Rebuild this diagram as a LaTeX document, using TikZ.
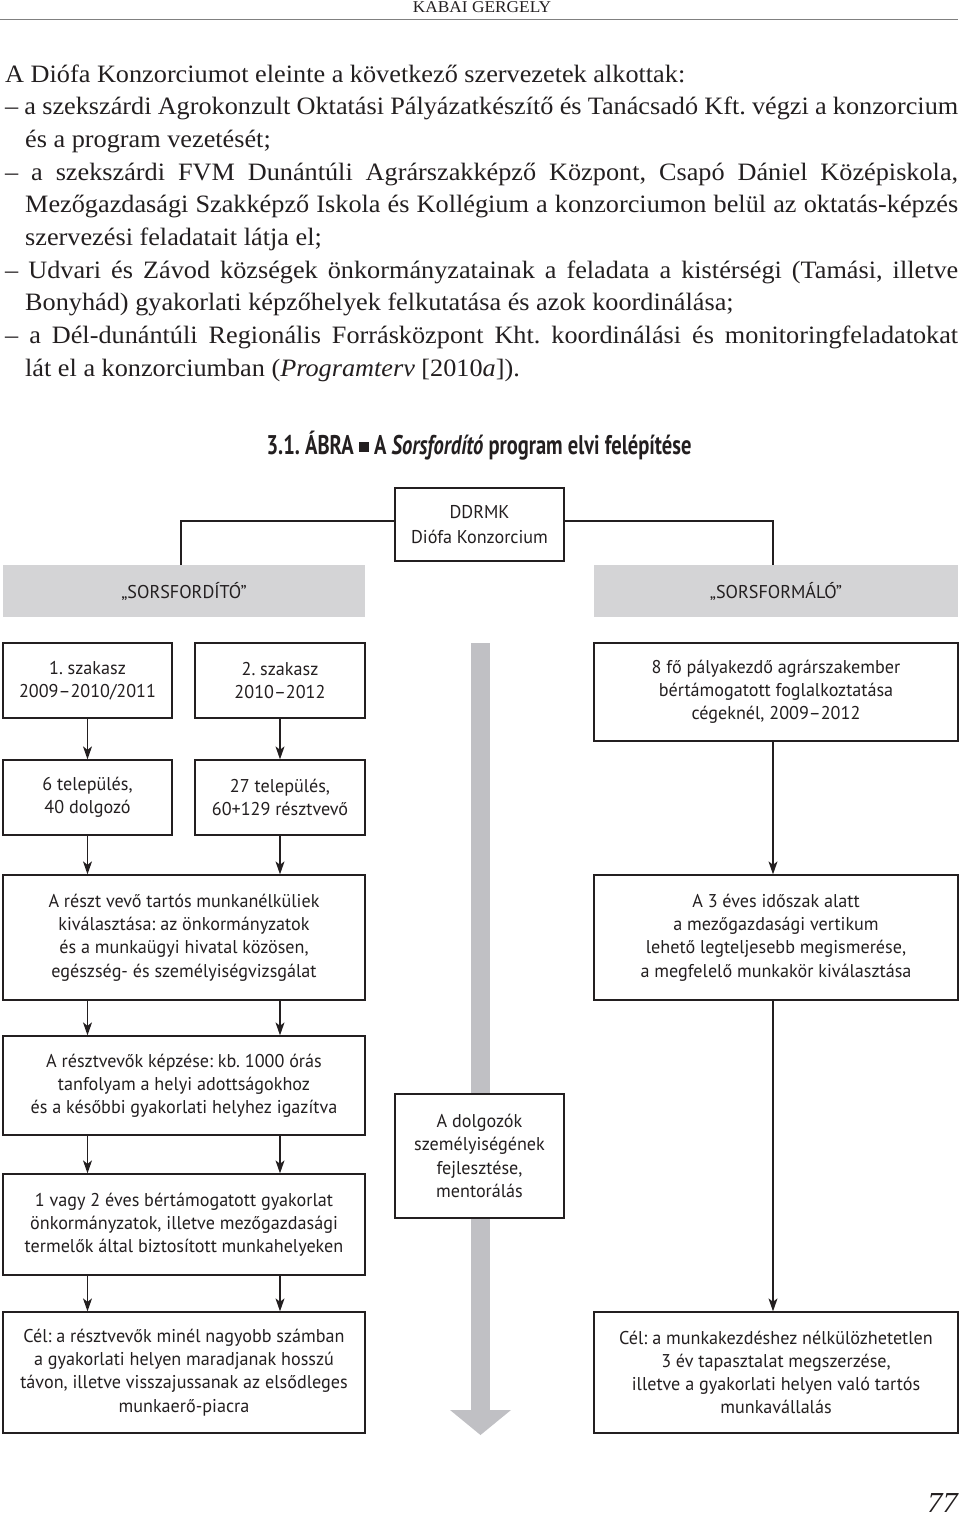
\documentclass[tikz,border=0pt]{standalone}
\usepackage{fontspec}
\usetikzlibrary{arrows.meta}
\setmainfont{Liberation Serif}[FakeStretch=1.05]
\newfontfamily\dfont{PT Sans}[FakeStretch=0.98]
\newfontfamily\tfont{PT Sans}[FakeStretch=0.76]
\definecolor{txt}{HTML}{231F20}
\definecolor{ln}{HTML}{231F20}
\definecolor{barc}{HTML}{D4D4D6}
\definecolor{stripc}{HTML}{C0C0C4}
\definecolor{rulec}{HTML}{808080}
\frenchspacing
\tikzset{
  bodytext/.style={anchor=base west, inner sep=0pt, text=txt, font=\fontsize{25}{30}\selectfont},
  box/.style={draw=ln, line width=1.3pt, fill=white, align=center, inner sep=0pt, text=txt,
    font=\dfont\fontsize{18.5}{23.2}\selectfont},
  greybar/.style={fill=barc, draw=none, inner sep=0pt, align=center, text=txt,
    font=\dfont\fontsize{18.5}{23.2}\selectfont},
  arr/.style={draw=ln, line width=1.2pt, -{Stealth[length=13pt,width=9pt,inset=3.5pt]}},
  conn/.style={draw=ln, line width=1.2pt}
}
\begin{document}
\begin{tikzpicture}[x=1pt,y=-1pt]
\useasboundingbox (0,0) rectangle (960,1518);
% header
\node[anchor=base, inner sep=0pt, text=txt, font=\fontsize{16.5}{20}\selectfont] (hdr) at (482,12.5) {KABAI GERGELY};
\draw[rulec, line width=1.6pt] (0,19.5) -- (958,19.5);
% body text
\node[bodytext] (l1) at (5,82) {A Diófa Konzorciumot eleinte a következő szervezetek alkottak:};
\node[bodytext] (l2) at (5,114.7) {\makebox[953pt][s]{– a szekszárdi Agrokonzult Oktatási Pályázatkészítő és Tanácsadó Kft. végzi a konzorcium}};
\node[bodytext] (l3) at (25,147.4) {és a program vezetését;};
\node[bodytext] (l4) at (5,180.1) {\makebox[953pt][s]{– a szekszárdi FVM Dunántúli Agrárszakképző Központ, Csapó Dániel Középiskola,}};
\node[bodytext] (l5) at (25,212.8) {\makebox[933pt][s]{Mezőgazdasági Szakképző Iskola és Kollégium a konzorciumon belül az oktatás-képzés}};
\node[bodytext] (l6) at (25,245.5) {szervezési feladatait látja el;};
\node[bodytext] (l7) at (5,278.2) {\makebox[953pt][s]{– Udvari és Závod községek önkormányzatainak a feladata a kistérségi (Tamási, illetve}};
\node[bodytext] (l8) at (25,310.9) {Bonyhád) gyakorlati képzőhelyek felkutatása és azok koordinálása;};
\node[bodytext] (l9) at (5,343.6) {\makebox[953pt][s]{– a Dél-dunántúli Regionális Forrásközpont Kht. koordinálási és monitoringfeladatokat}};
\node[bodytext] (l10) at (25,376.3) {lát el a konzorciumban (\textit{Programterv} [2010\textit{a}]).};
% title
\node[inner sep=0pt, text=txt, font=\tfont\bfseries\fontsize{27}{30}\selectfont] (title) at (479,446)
  {3.1. ÁBRA \raisebox{2.5pt}{\rule{10pt}{10pt}} A \textit{Sorsfordító} program elvi felépítése};
% top box and bars
\node[box, minimum width=169pt, minimum height=73pt, font=\dfont\fontsize{18.5}{25}\selectfont] (top) at (479.5,524.5) {DDRMK\\Diófa Konzorcium};
\node[greybar, minimum width=362pt, minimum height=52pt] (barL) at (184,591) {„SORSFORDÍTÓ”};
\node[greybar, minimum width=364pt, minimum height=52pt] (barR) at (776,591) {„SORSFORMÁLÓ”};
\coordinate (cl) at (181,521);
\coordinate (cr) at (773,521);
\draw[conn] (top.west |- cl) -- (cl) -- (cl |- barL.north);
\draw[conn] (top.east |- cr) -- (cr) -- (cr |- barR.north);
% grey strip arrow
\fill[stripc] (471,643) rectangle (490,1411);
\fill[stripc] (450,1410) -- (511,1410) -- (480.5,1435) -- cycle;
% boxes
\node[box, minimum width=169pt, minimum height=75pt] (b1) at (87.5,680.5) {1. szakasz\\2009–2010/2011};
\node[box, minimum width=170pt, minimum height=75pt] (b2) at (280,680.5) {2. szakasz\\2010–2012};
\node[box, minimum width=364pt, minimum height=98pt] (r1) at (776,692) {8 fő pályakezdő agrárszakember\\bértámogatott foglalkoztatása\\cégeknél, 2009–2012};
\node[box, minimum width=169pt, minimum height=75pt] (b3) at (87.5,797.5) {6 település,\\40 dolgozó};
\node[box, minimum width=170pt, minimum height=75pt] (b4) at (280,797.5) {27 település,\\60+129 résztvevő};
\node[box, minimum width=362pt, minimum height=125pt] (L1) at (184,937.5) {A részt vevő tartós munkanélküliek\\kiválasztása: az önkormányzatok\\és a munkaügyi hivatal közösen,\\egészség- és személyiségvizsgálat};
\node[box, minimum width=364pt, minimum height=125pt] (R2) at (776,937.5) {A 3 éves időszak alatt\\a mezőgazdasági vertikum\\lehető legteljesebb megismerése,\\a megfelelő munkakör kiválasztása};
\node[box, minimum width=362pt, minimum height=99pt] (L2) at (184,1085.5) {A résztvevők képzése: kb. 1000 órás\\tanfolyam a helyi adottságokhoz\\és a későbbi gyakorlati helyhez igazítva};
\node[box, minimum width=169pt, minimum height=124pt] (M) at (479.5,1156) {A dolgozók\\személyiségének\\fejlesztése,\\mentorálás};
\node[box, minimum width=362pt, minimum height=101pt] (L3) at (184,1224.5) {1 vagy 2 éves bértámogatott gyakorlat\\önkormányzatok, illetve mezőgazdasági\\termelők által biztosított munkahelyeken};
\node[box, minimum width=362pt, minimum height=121pt] (L4) at (184,1372.5) {Cél: a résztvevők minél nagyobb számban\\a gyakorlati helyen maradjanak hosszú\\távon, illetve visszajussanak az elsődleges\\munkaerő-piacra};
\node[box, minimum width=364pt, minimum height=121pt] (R3) at (776,1372.5) {Cél: a munkakezdéshez nélkülözhetetlen\\3 év tapasztalat megszerzése,\\illetve a gyakorlati helyen való tartós\\munkavállalás};
% arrows
\draw[arr] (b1.south) -- (b3.north);
\draw[arr] (b2.south) -- (b4.north);
\draw[arr] (b3.south) -- (b3.south |- L1.north);
\draw[arr] (b4.south) -- (b4.south |- L1.north);
\draw[arr] (L1.south -| b1) -- (L2.north -| b1);
\draw[arr] (L1.south -| b2) -- (L2.north -| b2);
\draw[arr] (L2.south -| b1) -- (L3.north -| b1);
\draw[arr] (L2.south -| b2) -- (L3.north -| b2);
\draw[arr] (L3.south -| b1) -- (L4.north -| b1);
\draw[arr] (L3.south -| b2) -- (L4.north -| b2);
\draw[arr] (r1.south -| cr) -- (R2.north -| cr);
\draw[arr] (R2.south -| cr) -- (R3.north -| cr);
% page number
\node[anchor=base east, inner sep=0pt, text=txt, font=\itshape\fontsize{29}{30}\selectfont] (pg) at (958,1512) {77};
\end{tikzpicture}
\end{document}
